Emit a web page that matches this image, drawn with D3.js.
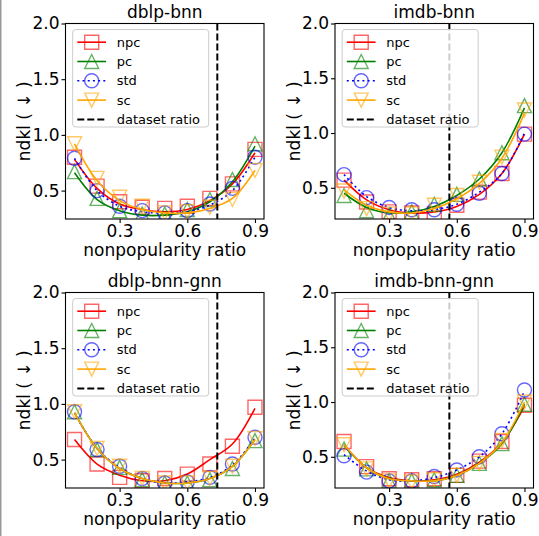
<!DOCTYPE html>
<html>
<head>
<meta charset="utf-8">
<script src="https://cdn.jsdelivr.net/npm/d3@7"></script>
<style>
  body { margin: 0; background: #fff; }
  svg { display: block; }
</style>
</head>
<body>
<div id="chart"></div>
<script>
const w = 539;
const h = 536;
const font = "'DejaVu Sans', sans-serif";

// x values shared by every series
const ratios = [0.1, 0.2, 0.3, 0.4, 0.5, 0.6, 0.7, 0.8, 0.9];
const xTicks = [0.3, 0.6, 0.9];
const yTicks = [0.5, 1.0, 1.5, 2.0];
const seriesNames = ['npc', 'pc', 'std', 'sc'];
const panelTitles = ['dblp-bnn', 'imdb-bnn', 'dblp-bnn-gnn', 'imdb-bnn-gnn'];
const datasetRatios = [0.733, 0.567, 0.733, 0.567];
const yMins = [0.245, 0.215, 0.245, 0.215];

// dblp-bnn : measured points / fitted curve
const dblpBnnNpc = [0.80, 0.54, 0.40, 0.35, 0.34, 0.36, 0.43, 0.56, 0.87];
const dblpBnnPc  = [0.67, 0.43, 0.32, 0.29, 0.29, 0.33, 0.42, 0.60, 0.92];
const dblpBnnStd = [0.79, 0.50, 0.36, 0.32, 0.30, 0.32, 0.38, 0.52, 0.80];
const dblpBnnSc  = [0.92, 0.61, 0.44, 0.36, 0.30, 0.31, 0.35, 0.42, 0.68];
const dblpBnnNpcFit = [0.78, 0.52, 0.38, 0.33, 0.31, 0.33, 0.41, 0.56, 0.84];
const dblpBnnPcFit  = [0.66, 0.42, 0.32, 0.28, 0.28, 0.31, 0.40, 0.58, 0.90];
const dblpBnnStdFit = [0.79, 0.50, 0.36, 0.31, 0.30, 0.31, 0.37, 0.50, 0.80];
const dblpBnnScFit  = [0.92, 0.59, 0.41, 0.33, 0.30, 0.30, 0.34, 0.43, 0.68];

// imdb-bnn
const imdbBnnNpc = [0.57, 0.37, 0.28, 0.27, 0.26, 0.34, 0.46, 0.63, 0.99];
const imdbBnnPc  = [0.43, 0.29, 0.25, 0.28, 0.35, 0.44, 0.58, 0.82, 1.25];
const imdbBnnStd = [0.62, 0.41, 0.32, 0.30, 0.30, 0.35, 0.45, 0.63, 0.99];
const imdbBnnSc  = [0.47, 0.31, 0.26, 0.26, 0.34, 0.43, 0.55, 0.78, 1.21];
const imdbBnnNpcFit = [0.57, 0.39, 0.30, 0.27, 0.28, 0.33, 0.44, 0.63, 0.99];
const imdbBnnPcFit  = [0.45, 0.32, 0.27, 0.28, 0.33, 0.43, 0.58, 0.82, 1.23];
const imdbBnnStdFit = [0.62, 0.42, 0.32, 0.29, 0.30, 0.35, 0.46, 0.63, 1.00];
const imdbBnnScFit  = [0.48, 0.34, 0.28, 0.27, 0.31, 0.40, 0.54, 0.77, 1.18];

// dblp-bnn-gnn
const dblpGnnNpc = [0.68, 0.46, 0.34, 0.31, 0.33, 0.37, 0.46, 0.62, 0.97];
const dblpGnnPc  = [0.93, 0.59, 0.43, 0.32, 0.29, 0.29, 0.32, 0.42, 0.67];
const dblpGnnStd = [0.93, 0.59, 0.44, 0.33, 0.29, 0.30, 0.34, 0.46, 0.70];
const dblpGnnSc  = [0.93, 0.60, 0.44, 0.33, 0.29, 0.29, 0.33, 0.44, 0.69];
const dblpGnnNpcFit = [0.68, 0.46, 0.36, 0.31, 0.31, 0.37, 0.50, 0.64, 0.96];
const dblpGnnPcFit  = [0.92, 0.60, 0.42, 0.33, 0.29, 0.29, 0.33, 0.44, 0.68];
const dblpGnnStdFit = [0.92, 0.60, 0.43, 0.33, 0.29, 0.30, 0.34, 0.45, 0.69];
const dblpGnnScFit  = [0.92, 0.60, 0.42, 0.33, 0.29, 0.29, 0.33, 0.44, 0.68];

// imdb-bnn-gnn
const imdbGnnNpc = [0.64, 0.41, 0.30, 0.29, 0.30, 0.33, 0.46, 0.64, 0.97];
const imdbGnnPc  = [0.57, 0.39, 0.28, 0.28, 0.29, 0.33, 0.44, 0.62, 0.98];
const imdbGnnStd = [0.51, 0.36, 0.28, 0.28, 0.32, 0.38, 0.50, 0.71, 1.11];
const imdbGnnSc  = [0.61, 0.39, 0.28, 0.27, 0.29, 0.33, 0.44, 0.65, 1.00];
const imdbGnnNpcFit = [0.61, 0.40, 0.31, 0.28, 0.29, 0.34, 0.45, 0.63, 0.96];
const imdbGnnPcFit  = [0.60, 0.40, 0.30, 0.28, 0.28, 0.33, 0.44, 0.62, 0.98];
const imdbGnnStdFit = [0.52, 0.37, 0.29, 0.28, 0.31, 0.38, 0.50, 0.71, 1.10];
const imdbGnnScFit  = [0.61, 0.40, 0.30, 0.28, 0.28, 0.33, 0.44, 0.63, 1.00];

const points = [
    [dblpBnnNpc, dblpBnnPc, dblpBnnStd, dblpBnnSc],
    [imdbBnnNpc, imdbBnnPc, imdbBnnStd, imdbBnnSc],
    [dblpGnnNpc, dblpGnnPc, dblpGnnStd, dblpGnnSc],
    [imdbGnnNpc, imdbGnnPc, imdbGnnStd, imdbGnnSc]
];
const fits = [
    [dblpBnnNpcFit, dblpBnnPcFit, dblpBnnStdFit, dblpBnnScFit],
    [imdbBnnNpcFit, imdbBnnPcFit, imdbBnnStdFit, imdbBnnScFit],
    [dblpGnnNpcFit, dblpGnnPcFit, dblpGnnStdFit, dblpGnnScFit],
    [imdbGnnNpcFit, imdbGnnPcFit, imdbGnnStdFit, imdbGnnScFit]
];

const colors = ['red', 'green', 'blue', 'orange'];
const dashes = [null, null, '2,3.2', null];
const ms = 14;

function markerPath(i) {
    const r = ms / 2;
    if (i === 0) return `M${-r},${-r}H${r}V${r}H${-r}Z`;
    if (i === 1) return `M0,${-r}L${r},${r}L${-r},${r}Z`;
    if (i === 2) return `M${r},0A${r},${r} 0 1,1 ${-r},0A${r},${r} 0 1,1 ${r},0Z`;
    return `M0,${r}L${r},${-r}L${-r},${-r}Z`;
}

const svg = d3.select('#chart')
    .append('svg')
    .attr('width', w)
    .attr('height', h)
    .attr('font-family', font);

svg.append('rect').attr('width', w).attr('height', h).attr('fill', '#fff');
svg.append('rect').attr('x', 0).attr('y', 0).attr('width', 1.5).attr('height', h).attr('fill', '#999');

const pw = 198.5, ph = 195.5;
const origins = [[65.5, 23.5], [335, 23.5], [65.5, 292.5], [335, 292.5]];

origins.forEach((o, p) => {
    const g = svg.append('g').attr('transform', `translate(${o[0]},${o[1]})`);

    const xScale = d3.scaleLinear().domain([0.06, 0.94]).range([0, pw]);
    const yScale = d3.scaleLinear().domain([yMins[p], 2.0]).range([ph, 0]);

    g.append('clipPath').attr('id', 'clip' + p)
        .append('rect').attr('width', pw).attr('height', ph);

    const plot = g.append('g').attr('clip-path', `url(#clip${p})`);

    const line = d3.line()
        .x((d, i) => xScale(ratios[i]))
        .y(d => yScale(d))
        .curve(d3.curveCatmullRom.alpha(0.5));

    seriesNames.forEach((s, si) => {
        plot.append('path')
            .attr('d', line(fits[p][si]))
            .attr('fill', 'none')
            .attr('stroke', colors[si])
            .attr('stroke-width', 1.6)
            .attr('stroke-dasharray', dashes[si]);

        plot.selectAll('.m' + si)
            .data(points[p][si])
            .enter()
            .append('path')
            .attr('class', 'm' + si)
            .attr('transform', (d, i) => `translate(${xScale(ratios[i])},${yScale(d)})`)
            .attr('d', markerPath(si))
            .attr('fill', 'none')
            .attr('stroke', colors[si])
            .attr('stroke-opacity', 0.6)
            .attr('stroke-width', 1.4);
    });

    // dataset ratio
    plot.append('line')
        .attr('x1', xScale(datasetRatios[p])).attr('x2', xScale(datasetRatios[p]))
        .attr('y1', 0).attr('y2', ph)
        .attr('stroke', '#000')
        .attr('stroke-width', 2)
        .attr('stroke-dasharray', '7,3');

    // axes
    const xAxis = d3.axisBottom(xScale).tickValues(xTicks).tickSize(4).tickPadding(1.5).tickFormat(d3.format('.1f'));
    const yAxis = d3.axisLeft(yScale).tickValues(yTicks).tickSize(4).tickPadding(2).tickFormat(d3.format('.1f'));

    const gx = g.append('g').attr('transform', `translate(0,${ph})`).call(xAxis);
    const gy = g.append('g').call(yAxis);
    [gx, gy].forEach(a => {
        a.attr('font-family', font).attr('font-size', 17);
        a.select('.domain').remove();
        a.selectAll('text').attr('fill', '#000');
        a.selectAll('line').attr('stroke', '#000').attr('stroke-width', 1.1);
    });

    g.append('rect')
        .attr('width', pw).attr('height', ph)
        .attr('fill', 'none')
        .attr('stroke', '#000')
        .attr('stroke-width', 1.1);

    // legend
    const lg = g.append('g').attr('transform', 'translate(7.2,6)');
    lg.append('rect')
        .attr('width', 136).attr('height', 97.5)
        .attr('rx', 3)
        .attr('fill', '#fff').attr('fill-opacity', 0.8)
        .attr('stroke', '#ccc').attr('stroke-width', 1);

    const labels = seriesNames.concat(['dataset ratio']);
    labels.forEach((lab, li) => {
        const yy = 12.7 + li * 19.3;
        const row = lg.append('g').attr('transform', `translate(0,${yy})`);
        if (li < 4) {
            row.append('line')
                .attr('x1', 4.6).attr('x2', 33.4)
                .attr('stroke', colors[li]).attr('stroke-width', 1.6)
                .attr('stroke-dasharray', dashes[li]);
            row.append('path')
                .attr('transform', 'translate(19,0)')
                .attr('d', markerPath(li))
                .attr('fill', 'none')
                .attr('stroke', colors[li])
                .attr('stroke-opacity', 0.6)
                .attr('stroke-width', 1.4);
        } else {
            row.append('line')
                .attr('x1', 4.6).attr('x2', 33.4)
                .attr('stroke', '#000').attr('stroke-width', 2)
                .attr('stroke-dasharray', '7,3');
        }
        row.append('text')
            .attr('x', 44).attr('dy', '0.35em')
            .attr('font-size', 13)
            .text(lab);
    });

    g.append('text')
        .attr('x', pw / 2).attr('y', -5.5)
        .attr('text-anchor', 'middle')
        .attr('font-size', 17)
        .text(panelTitles[p]);

    g.append('text')
        .attr('x', pw / 2).attr('y', ph + 36.5)
        .attr('text-anchor', 'middle')
        .attr('font-size', 17)
        .text('nonpopularity ratio');

    g.append('text')
        .attr('transform', `translate(${30 - 65.5},${ph / 2}) rotate(-90)`)
        .attr('text-anchor', 'middle')
        .attr('font-size', 17)
        .text('ndkl ( ↓ )');
});
</script>
</body>
</html>
